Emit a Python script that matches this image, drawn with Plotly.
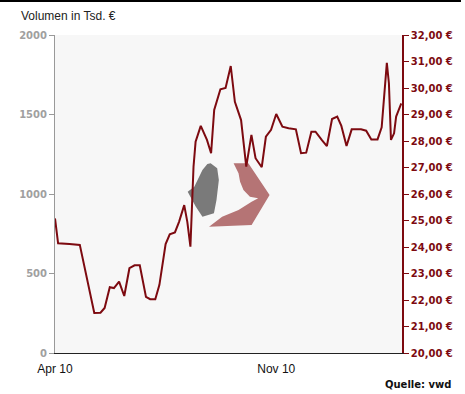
import plotly.graph_objects as go

# ---- data ----
dates = [
    "2010-04-01", "2010-04-04", "2010-04-15", "2010-04-25", "2010-05-09", "2010-05-15",
    "2010-05-19", "2010-05-24", "2010-05-28", "2010-06-02", "2010-06-07", "2010-06-12",
    "2010-06-17", "2010-06-22", "2010-06-28", "2010-07-02", "2010-07-07", "2010-07-11",
    "2010-07-17", "2010-07-21", "2010-07-26", "2010-07-30", "2010-08-04", "2010-08-07",
    "2010-08-10", "2010-08-13", "2010-08-15", "2010-08-20", "2010-08-26", "2010-08-30",
    "2010-09-02", "2010-09-08", "2010-09-13", "2010-09-18", "2010-09-22", "2010-09-28",
    "2010-10-03", "2010-10-08", "2010-10-12", "2010-10-18", "2010-10-22", "2010-10-27",
    "2010-11-01", "2010-11-07", "2010-11-13", "2010-11-20", "2010-11-25", "2010-11-30",
    "2010-12-05", "2010-12-09", "2010-12-15", "2010-12-20", "2010-12-25", "2010-12-30",
    "2011-01-03", "2011-01-08", "2011-01-13", "2011-01-22", "2011-01-27", "2011-02-01",
    "2011-02-07", "2011-02-11", "2011-02-16", "2011-02-18", "2011-02-20", "2011-02-23",
    "2011-02-25", "2011-03-02",
]
prices = [
    25.08, 24.14, 24.11, 24.08, 21.51, 21.52,
    21.70, 22.48, 22.45, 22.69, 22.15, 23.20,
    23.31, 23.31, 22.12, 22.03, 22.03, 22.57,
    24.11, 24.48, 24.55, 24.95, 25.58, 24.95,
    24.01, 27.03, 27.97, 28.57, 28.04, 27.54,
    29.17, 29.95, 30.00, 30.83, 29.48, 28.79,
    27.03, 28.23, 27.35, 27.01, 28.16, 28.42,
    29.02, 28.54, 28.48, 28.44, 27.54, 27.56,
    28.35, 28.35, 28.04, 27.81, 28.83, 28.92,
    28.57, 27.81, 28.44, 28.44, 28.39, 28.06,
    28.06, 28.52, 30.95, 30.18, 28.04, 28.29,
    28.92, 29.42,
]

x_tick_vals = ["2010-04-01", "2010-11-01"]
x_tick_text = ["Apr 10", "Nov 10"]
vol_ticks = [0, 500, 1000, 1500, 2000]
vol_tick_text = ["0", "500", "1000", "1500", "2000"]
price_ticks = list(range(20, 33))
price_tick_text = [f"{v},00 €" for v in price_ticks]

DARKRED = "#7d0a10"

fig = go.Figure()
# invisible volume trace to anchor the left axis
fig.add_trace(go.Scatter(x=[dates[0]], y=[0], mode="markers",
                         marker=dict(opacity=0), showlegend=False,
                         hoverinfo="skip", yaxis="y"))
fig.add_trace(go.Scatter(x=dates, y=prices, mode="lines",
                         line=dict(color=DARKRED, width=2),
                         showlegend=False, yaxis="y2"))

# watermark logo (decoration, paper coordinates)
gray_pts = [(0.4485, 0.5965), (0.4674, 0.5808), (0.4722, 0.5440), (0.4654, 0.4811),
            (0.4581, 0.4393), (0.4249, 0.4286), (0.4059, 0.4601), (0.3824, 0.5072),
            (0.4014, 0.5230), (0.4249, 0.5755), (0.4391, 0.5943)]
red_pts = [(0.5147, 0.5965), (0.5572, 0.5965), (0.6184, 0.4969), (0.5666, 0.4025),
           (0.4439, 0.3972), (0.4816, 0.4286), (0.5289, 0.4497), (0.5666, 0.4758),
           (0.5856, 0.4865), (0.5618, 0.4915), (0.5431, 0.5126), (0.5334, 0.5387),
           (0.5289, 0.5651)]


def path(pts):
    return "M " + " L ".join(f"{a},{b}" for a, b in pts) + " Z"


shapes = [
    dict(type="path", xref="paper", yref="paper", path=path(gray_pts),
         fillcolor="#7a7a7a", line=dict(width=0), layer="below"),
    dict(type="path", xref="paper", yref="paper", path=path(red_pts),
         fillcolor="#b57475", line=dict(width=0), layer="below"),
    # top black rule
    dict(type="line", xref="paper", yref="paper", x0=-0.16, x1=1.17,
         y0=1.107, y1=1.107, line=dict(color="black", width=2)),
]

fig.update_layout(
    width=465, height=394,
    margin=dict(l=55, r=57, t=35, b=41),
    paper_bgcolor="white",
    plot_bgcolor="#f7f7f7",
    shapes=shapes,
    xaxis=dict(
        type="date",
        range=["2010-04-01", "2011-03-02 16:00"],
        tickvals=x_tick_vals, ticktext=x_tick_text,
        ticks="outside", ticklen=5, tickcolor="rgba(0,0,0,0)",
        tickfont=dict(family="Liberation Sans, Arial", size=12, color="#111"),
        showline=True, linecolor="#222", linewidth=1,
        showgrid=False, zeroline=False,
    ),
    yaxis=dict(
        range=[0, 2000],
        tickvals=vol_ticks, ticktext=vol_tick_text,
        ticks="outside", ticklen=5, tickcolor="#999",
        tickfont=dict(family="DejaVu Sans", size=10, color="#a0a0a0", weight="bold"),
        showline=True, linecolor="#999", linewidth=1,
        showgrid=False, zeroline=False,
    ),
    yaxis2=dict(
        range=[20, 32], overlaying="y", side="right",
        tickvals=price_ticks, ticktext=price_tick_text,
        ticks="outside", ticklen=5, tickcolor=DARKRED,
        tickfont=dict(family="DejaVu Sans", size=10, color=DARKRED, weight="bold"),
        showline=True, linecolor=DARKRED, linewidth=1.5,
        showgrid=False, zeroline=False,
    ),
    annotations=[
        dict(text="Volumen in Tsd. €", xref="paper", yref="paper",
             x=-0.105, y=1.06, xanchor="left", yanchor="middle", showarrow=False,
             font=dict(family="Liberation Sans, Arial", size=12, color="#222")),
        dict(text="Quelle: vwd", xref="paper", yref="paper",
             x=1.147, y=-0.1, xanchor="right", yanchor="middle", showarrow=False,
             font=dict(family="DejaVu Sans", size=10, color="#111", weight="bold")),
    ],
)

fig.write_html("out.html")
